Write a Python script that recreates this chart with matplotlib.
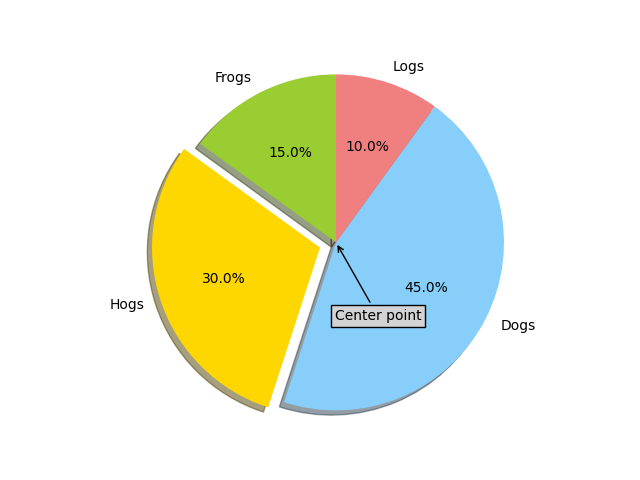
import matplotlib.pyplot as plt

labels = ['Frogs', 'Hogs', 'Dogs', 'Logs']
sizes = [15, 30, 45, 10]
colors = ['yellowgreen', 'gold', 'lightskyblue', 'lightcoral']
explode = (0, 0.1, 0, 0)

fig, ax = plt.subplots(figsize=(6.4, 4.8), dpi=100)
ax.pie(sizes, explode=explode, labels=labels, colors=colors,
       autopct='%1.1f%%', shadow=True, startangle=90)
ax.axis('equal')

ax.annotate('Center point', xy=(0, 0), xytext=(0.25, -0.44),
            ha='center', va='center',
            bbox=dict(boxstyle='square', facecolor='lightgray', edgecolor='black'),
            arrowprops=dict(arrowstyle='->', color='black'))

fig.savefig('out.png')
